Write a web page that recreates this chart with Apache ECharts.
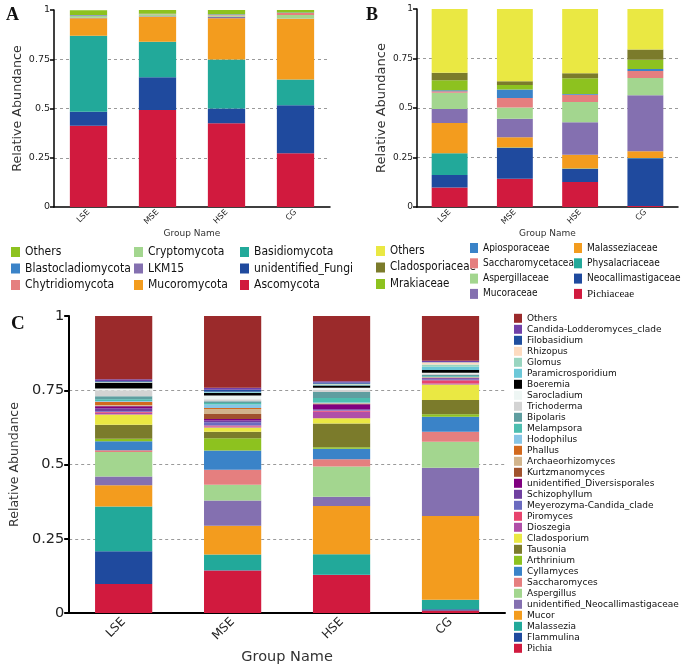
<!DOCTYPE html>
<html>
<head>
<meta charset="utf-8">
<script src="https://cdn.jsdelivr.net/npm/echarts@6/dist/echarts.min.js"></script>
<style>html,body{margin:0;padding:0;background:#fff}#c{width:685px;height:666px}</style>
</head>
<body>
<div id="c"></div>
<script>
// ---------- DATA ----------
const groups = ['LSE', 'MSE', 'HSE', 'CG'];

// Panel A (phylum), stack order bottom -> top
const aNames = ['Ascomycota', 'unidentified_Fungi', 'Basidiomycota', 'Mucoromycota', 'LKM15', 'Cryptomycota', 'Chytridiomycota', 'Blastocladiomycota', 'Others'];
const aLSE = [0.412, 0.071, 0.386, 0.089, 0.003, 0.008, 0.003, 0.002, 0.025];
const aMSE = [0.492, 0.166, 0.181, 0.127, 0.002, 0.010, 0.002, 0.001, 0.019];
const aHSE = [0.425, 0.075, 0.249, 0.209, 0.008, 0.006, 0.004, 0.002, 0.022];
const aCG  = [0.273, 0.244, 0.130, 0.308, 0.002, 0.018, 0.010, 0.002, 0.015];
const aColors = ['#D11A3E', '#1F4A9E', '#22A99A', '#F39C1E', '#8470B0', '#A3D68F', '#E57F7F', '#3A83C8', '#8DC21F'];

// Panel B (family), stack order bottom -> top
const bNames = ['Pichiaceae', 'Neocallimastigaceae', 'Physalacriaceae', 'Malasseziaceae', 'Mucoraceae', 'Aspergillaceae', 'Saccharomycetaceae', 'Apiosporaceae', 'Mrakiaceae', 'Cladosporiaceae', 'Others'];
const bLSE = [0.098, 0.064, 0.109, 0.153, 0.071, 0.082, 0.008, 0.005, 0.050, 0.038, 0.322];
const bMSE = [0.143, 0.155, 0.003, 0.051, 0.094, 0.056, 0.049, 0.043, 0.022, 0.019, 0.365];
const bHSE = [0.126, 0.066, 0.002, 0.070, 0.164, 0.102, 0.037, 0.004, 0.079, 0.025, 0.325];
const bCG  = [0.005, 0.241, 0.002, 0.033, 0.283, 0.088, 0.035, 0.010, 0.047, 0.051, 0.205];
const bColors = ['#D11A3E', '#1F4A9E', '#22A99A', '#F39C1E', '#8470B0', '#A3D68F', '#E57F7F', '#3A83C8', '#8DC21F', '#7B7B2B', '#EAE843'];

// Panel C (genus), stack order bottom -> top
const cNames = ['Pichia', 'Flammulina', 'Malassezia', 'Mucor', 'unidentified_Neocallimastigaceae', 'Aspergillus', 'Saccharomyces', 'Cyllamyces', 'Arthrinium', 'Tausonia', 'Cladosporium', 'Dioszegia', 'Piromyces', 'Meyerozyma-Candida_clade', 'Schizophyllum', 'unidentified_Diversisporales', 'Kurtzmanomyces', 'Archaeorhizomyces', 'Phallus', 'Hodophilus', 'Melampsora', 'Bipolaris', 'Trichoderma', 'Sarocladium', 'Boeremia', 'Paramicrosporidium', 'Glomus', 'Rhizopus', 'Filobasidium', 'Candida-Lodderomyces_clade', 'Others'];
const cLSE = [0.098, 0.110, 0.151, 0.071, 0.030, 0.082, 0.006, 0.030, 0.009, 0.047, 0.034, 0.006, 0.003, 0.002, 0.010, 0.007, 0.002, 0.002, 0.011, 0.003, 0.006, 0.010, 0.020, 0.006, 0.019, 0.001, 0.001, 0.002, 0.002, 0.006, 0.214];
const cMSE = [0.143, 0.001, 0.053, 0.097, 0.085, 0.053, 0.050, 0.065, 0.041, 0.022, 0.015, 0.003, 0.003, 0.011, 0.006, 0.005, 0.017, 0.017, 0.003, 0.012, 0.005, 0.006, 0.007, 0.012, 0.009, 0.002, 0.001, 0.001, 0.007, 0.006, 0.242];
const cHSE = [0.128, 0.001, 0.069, 0.162, 0.031, 0.102, 0.025, 0.035, 0.005, 0.080, 0.018, 0.022, 0.003, 0.002, 0.003, 0.017, 0.001, 0.001, 0.001, 0.003, 0.015, 0.020, 0.008, 0.006, 0.008, 0.002, 0.002, 0.002, 0.004, 0.004, 0.220];
const cCG  = [0.008, 0.005, 0.032, 0.282, 0.162, 0.088, 0.033, 0.051, 0.008, 0.048, 0.052, 0.004, 0.011, 0.003, 0.003, 0.001, 0.001, 0.001, 0.001, 0.001, 0.002, 0.004, 0.005, 0.003, 0.009, 0.011, 0.008, 0.007, 0.001, 0.004, 0.151];
const cColors = ['#D11A3E', '#1F4A9E', '#22A99A', '#F39C1E', '#8470B0', '#A3D68F', '#E57F7F', '#3A83C8', '#8DC21F', '#7B7B2B', '#EAE843', '#B04FA8', '#E8446E', '#6B6BC0', '#7040A0', '#800080', '#A0522D', '#D2B48C', '#D2691E', '#87C5E6', '#4DBEB0', '#5F9EA0', '#D3D3D3', '#EEF6F4', '#000000', '#6CC8D8', '#99D5C0', '#FDDBC0', '#1F4E9E', '#7040A8', '#9B2A2B'];

const ticks = [0, 0.25, 0.5, 0.75, 1];

// legend columns (top -> bottom)
const aLegCols = [['Others', 'Blastocladiomycota', 'Chytridiomycota'], ['Cryptomycota', 'LKM15', 'Mucoromycota'], ['Basidiomycota', 'unidentified_Fungi', 'Ascomycota']];
const bLegCols = [['Others', 'Cladosporiaceae', 'Mrakiaceae'], ['Apiosporaceae', 'Saccharomycetaceae', 'Aspergillaceae', 'Mucoraceae'], ['Malasseziaceae', 'Physalacriaceae', 'Neocallimastigaceae', 'Pichiaceae']];
const cLegCol = cNames.slice().reverse();

// ---------- CHART ----------
const FF = 'DejaVu Sans';
const chart = echarts.init(document.getElementById('c'), null, {renderer: 'canvas'});

function buildSeries(prefix, names, rows, colors, gi, bw) {
  return names.map((n, i) => ({
    type: 'bar', name: prefix + '|' + n, stack: prefix,
    xAxisIndex: gi, yAxisIndex: gi, barWidth: bw,
    itemStyle: {color: colors[i]},
    data: rows.map(r => r[i]),
    animation: false
  }));
}

function legendCol(prefix, names, left, top, o) {
  return {
    show: true, orient: 'vertical', left: left, top: top, padding: 0,
    itemGap: o.gap, itemWidth: o.iw, itemHeight: o.ih, icon: 'rect', selectedMode: false,
    data: names.map(n => prefix + '|' + n),
    formatter: function (n) {
      const s = n.split('|')[1];
      return (s === 'Pichia' || s === 'Pichiaceae') ? '{serif|' + s + '}' : s;
    },
    textStyle: {
      fontFamily: o.ff, fontSize: o.fs, lineHeight: o.lh, color: '#111',
      rich: {serif: {fontFamily: 'Liberation Serif', fontSize: o.fs + 1, lineHeight: o.lh, color: '#111'}}
    }
  };
}

function xAx(gi, o) {
  return {
    type: 'category', gridIndex: gi, data: groups,
    axisLine: {lineStyle: {color: '#000', width: o.lw}},
    axisTick: {length: o.tl, lineStyle: {color: '#000', width: o.lw}},
    axisLabel: {rotate: 45, fontSize: o.lfs, margin: o.lm, color: '#222', fontFamily: FF},
    name: 'Group Name', nameLocation: 'middle', nameGap: o.ng,
    nameTextStyle: {fontSize: o.nfs, color: '#333', fontFamily: FF}
  };
}
function yAx(gi, o) {
  return {
    type: 'value', gridIndex: gi, min: 0, max: 1, interval: 0.25,
    axisLine: {show: true, lineStyle: {color: '#000', width: o.lw}},
    axisTick: {show: true, length: o.tl, lineStyle: {color: '#000', width: o.lw}},
    axisLabel: {fontSize: o.lfs, margin: o.lm, color: '#222', fontFamily: FF,
      formatter: v => String(ticks.find(t => Math.abs(t - v) < 1e-9) ?? v)},
    splitLine: {show: true, showMinLine: false, showMaxLine: false, lineStyle: {type: [3, 3], color: '#9a9a9a', width: 1}},
    name: 'Relative Abundance', nameLocation: 'middle', nameGap: o.ng,
    nameTextStyle: {fontSize: o.nfs, color: '#333', fontFamily: FF}
  };
}

const legA = {ff: 'DejaVu Sans Condensed', fs: 12, lh: 14, gap: 2.5, iw: 9, ih: 10};
const legB1 = {ff: 'DejaVu Sans Condensed', fs: 11.5, lh: 14, gap: 2.5, iw: 9, ih: 10};
const legB2 = {ff: 'DejaVu Sans Condensed', fs: 10, lh: 13, gap: 2.3, iw: 8, ih: 10};
const legC = {ff: FF, fs: 9, lh: 11, gap: 0, iw: 8, ih: 9};

const option = {
  backgroundColor: '#fff',
  animation: false,
  title: [
    {text: 'A', left: 6, top: 6, padding: 0, textStyle: {fontFamily: 'Liberation Serif', fontWeight: 'bold', fontSize: 18, color: '#111'}},
    {text: 'B', left: 366, top: 6, padding: 0, textStyle: {fontFamily: 'Liberation Serif', fontWeight: 'bold', fontSize: 18, color: '#111'}},
    {text: 'C', left: 11, top: 315, padding: 0, textStyle: {fontFamily: 'Liberation Serif', fontWeight: 'bold', fontSize: 19, color: '#111'}}
  ],
  grid: [
    {left: 54, top: 10, width: 276, height: 197},
    {left: 417, top: 9, width: 261, height: 198},
    {left: 68, top: 316, width: 437, height: 297}
  ],
  xAxis: [
    xAx(0, {lw: 1.5, tl: 3, lfs: 8, lm: 4, ng: 22, nfs: 9}),
    xAx(1, {lw: 1.5, tl: 3, lfs: 8, lm: 4, ng: 22, nfs: 9}),
    xAx(2, {lw: 2, tl: 5, lfs: 12, lm: 7, ng: 37, nfs: 14.5})
  ],
  yAxis: [
    yAx(0, {lw: 1.5, tl: 4, lfs: 9.5, lm: 4, ng: 30, nfs: 12.7}),
    yAx(1, {lw: 1.5, tl: 4, lfs: 9, lm: 4, ng: 29, nfs: 13}),
    yAx(2, {lw: 2, tl: 5, lfs: 14.5, lm: 5, ng: 38, nfs: 12.5})
  ],
  legend: [
    legendCol('A', aLegCols[0], 11, 245, legA),
    legendCol('A', aLegCols[1], 134, 245, legA),
    legendCol('A', aLegCols[2], 240, 245, legA),
    legendCol('B', bLegCols[0], 376, 244, legB1),
    legendCol('B', bLegCols[1], 470, 241.5, legB2),
    legendCol('B', bLegCols[2], 574, 241.5, legB2),
    legendCol('C', cLegCol, 514, 312.8, legC)
  ],
  series: [].concat(
    buildSeries('A', aNames, [aLSE, aMSE, aHSE, aCG], aColors, 0, '54%'),
    buildSeries('B', bNames, [bLSE, bMSE, bHSE, bCG], bColors, 1, '55%'),
    buildSeries('C', cNames, [cLSE, cMSE, cHSE, cCG], cColors, 2, '52.5%')
  )
};
chart.setOption(option);
</script>
</body>
</html>
